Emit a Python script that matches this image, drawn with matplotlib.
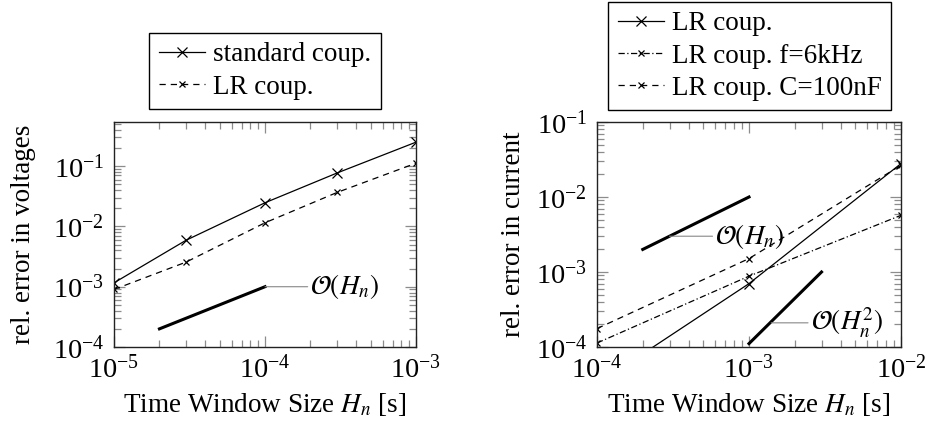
import matplotlib
matplotlib.use('Agg')
import matplotlib.pyplot as plt
from matplotlib.ticker import LogLocator, NullFormatter
import numpy as np

plt.rcParams['font.family'] = ['Liberation Serif', 'DejaVu Serif']
plt.rcParams['mathtext.fontset'] = 'stix'
plt.rcParams['font.size'] = 19.5

# left panel: voltage error
h_volt = [1e-5, 3e-5, 1e-4, 3e-4, 1e-3]
err_std = [1.16e-3, 5.9e-3, 2.47e-2, 7.7e-2, 0.25]
err_lr = [9.0e-4, 2.56e-3, 1.15e-2, 3.66e-2, 0.112]
ref1_left_x = [2e-5, 1e-4]
ref1_left_y = [2e-4, 1e-3]

# right panel: current error
h_curr = [1e-4, 1e-3, 1e-2]
cur_lr = [3.2e-5, 7.0e-4, 2.79e-2]
cur_f6k = [1.13e-4, 8.8e-4, 5.7e-3]
cur_c100 = [1.76e-4, 1.51e-3, 2.65e-2]
ref1_right_x = [2e-4, 1e-3]
ref1_right_y = [2e-3, 1e-2]
ref2_right_x = [1e-3, 3e-3]
ref2_right_y = [1.11e-4, 1e-3]

fig = plt.figure(figsize=(9.28, 4.25), dpi=100)
ax1 = fig.add_axes([114/928, 78/425, 302/928, 225/425])
ax2 = fig.add_axes([597/928, 78/425, 304/928, 225/425])


def style_axis(ax):
    ax.set_xscale('log')
    ax.set_yscale('log')
    for ax_ in (ax.xaxis, ax.yaxis):
        ax_.set_major_locator(LogLocator(base=10, numticks=20))
        ax_.set_minor_locator(LogLocator(base=10, subs=np.arange(2, 10), numticks=20))
        ax_.set_minor_formatter(NullFormatter())
    ax.tick_params(which='both', direction='in', top=True, right=True,
                   color='#8c8c8c', width=0.9, labelsize=20.5)
    ax.tick_params(which='major', length=8)
    ax.tick_params(which='minor', length=5)
    ax.tick_params(axis='x', which='major', pad=6)
    ax.tick_params(axis='y', which='major', pad=7)
    for s in ax.spines.values():
        s.set_linewidth(1.0)
        s.set_color('#222222')


def pin(ax, xy, text_xy, text):
    ax.annotate(text, xy=xy, xytext=text_xy, textcoords='data',
                va='center', ha='left',
                arrowprops=dict(arrowstyle='-', color='#888888', lw=0.8,
                                shrinkA=0, shrinkB=0))


legend_kw = dict(loc='upper center', fancybox=False, edgecolor='black',
                 framealpha=1, handlelength=1.7, handletextpad=0.3,
                 labelspacing=0.26, borderpad=0.35, borderaxespad=0)

# left
style_axis(ax1)
ax1.plot(h_volt, err_std, '-', color='black', lw=0.9, marker='x', ms=7, mew=0.9,
         label='standard coup.')
ax1.plot(h_volt, err_lr, '--', color='black', lw=0.9, marker='x', ms=5, mew=0.9,
         dashes=(5, 4), label='LR coup.')
ax1.plot(ref1_left_x, ref1_left_y, '-', color='black', lw=2.2)
pin(ax1, (1e-4, 1e-3), (2.0e-4, 1e-3), r'$\mathcal{O}(H_n)$')
ax1.set_xlim(1e-5, 1e-3)
ax1.set_ylim(1e-4, 0.54)
ax1.set_xlabel(r'Time Window Size $H_n$ [s]', labelpad=5)
ax1.set_ylabel('rel. error in voltages', labelpad=12)
leg1 = ax1.legend(bbox_to_anchor=(265/928, 1 - 33/425),
                  bbox_transform=fig.transFigure, **legend_kw)
leg1.get_frame().set_linewidth(1.0)

# right
style_axis(ax2)
ax2.plot(h_curr, cur_lr, '-', color='black', lw=0.9, marker='x', ms=7, mew=0.9,
         label='LR coup.')
ax2.plot(h_curr, cur_f6k, color='black', lw=0.9, marker='x', ms=5, mew=0.9,
         dashes=(5, 2, 1, 2), label='LR coup. f=6kHz')
ax2.plot(h_curr, cur_c100, '--', color='black', lw=0.9, marker='x', ms=5, mew=0.9,
         dashes=(5, 4), label='LR coup. C=100nF')
ax2.plot(ref1_right_x, ref1_right_y, '-', color='black', lw=2.2)
ax2.plot(ref2_right_x, ref2_right_y, '-', color='black', lw=2.2)
pin(ax2, (3e-4, 3e-3), (6.0e-4, 3e-3), r'$\mathcal{O}(H_n)$')
pin(ax2, (1.4e-3, 2.1e-4), (2.55e-3, 2.1e-4), r'$\mathcal{O}(H_n^2)$')
ax2.set_xlim(1e-4, 1e-2)
ax2.set_ylim(1e-4, 1e-1)
ax2.set_xlabel(r'Time Window Size $H_n$ [s]', labelpad=5)
ax2.set_ylabel('rel. error in current', labelpad=7)
leg2 = ax2.legend(bbox_to_anchor=(749.5/928, 1 - 2/425),
                  bbox_transform=fig.transFigure, **legend_kw)
leg2.get_frame().set_linewidth(1.0)

fig.savefig('out.png', dpi=100)
